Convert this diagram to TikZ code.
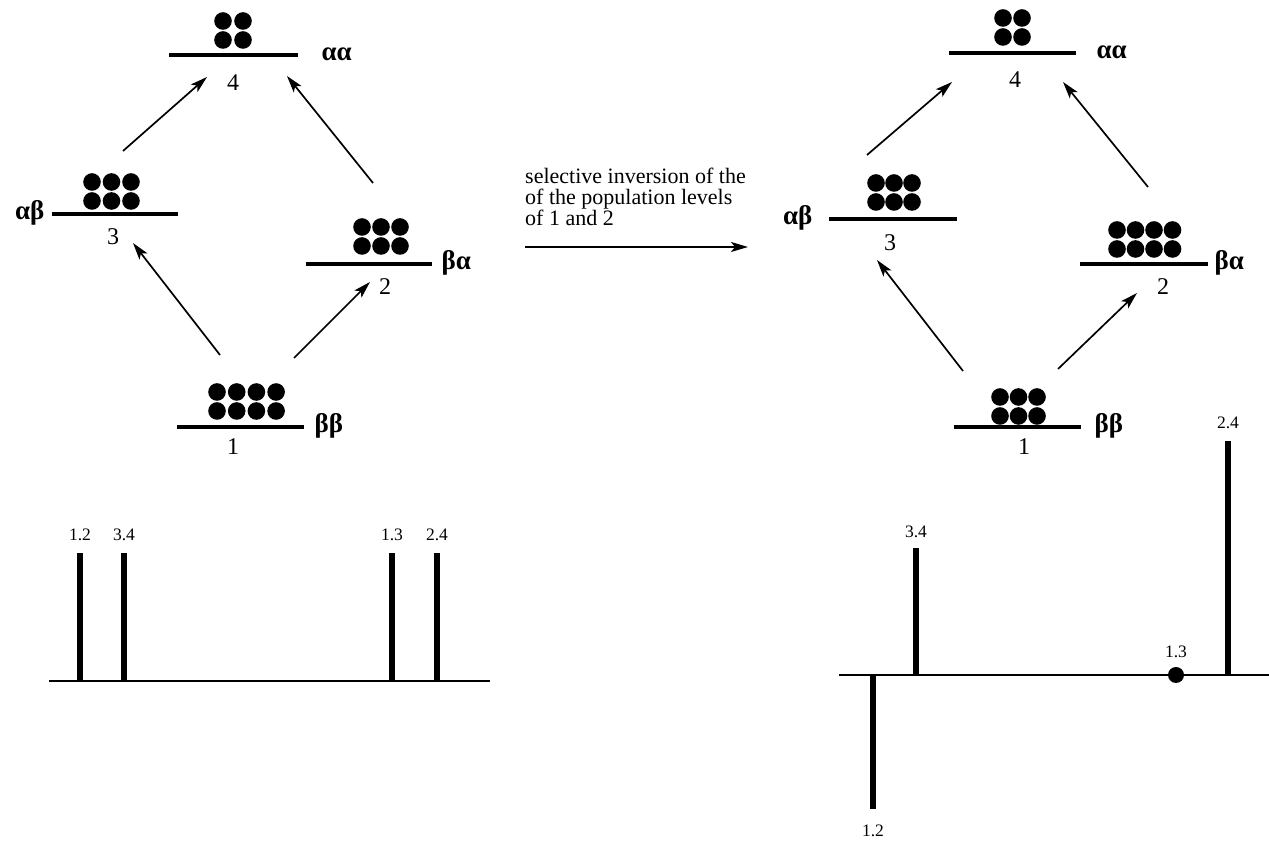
\documentclass[tikz,border=0pt]{standalone}
\usepackage{fontspec}
\setmainfont{Liberation Serif}
\usetikzlibrary{arrows.meta}
\tikzset{
  levelbar/.style={line width=3.5pt},
  trans/.style={line width=1.7pt,-{Stealth[length=17pt,width=10pt,inset=4pt]}},
  peakbar/.style={line width=6.5pt},
  axisline/.style={line width=1.5pt},
  lvlnum/.style={font=\fontsize{24}{26}\selectfont},
  spinlab/.style={font=\bfseries\fontsize{27}{29}\selectfont},
  peaklab/.style={font=\fontsize{17.5}{19}\selectfont},
}
\newcommand{\popdots}[4]{% first dot x, upper row y, columns, spacing
  \foreach \i in {1,...,#3} {
    \fill ({#1+(\i-1)*#4},#2) circle (8.8pt);
    \fill ({#1+(\i-1)*#4},#2-19) circle (8.8pt);
  }
}
\newcommand{\peak}[6]{% name, x, base y, tip y, label y, label
  \draw[peakbar] (#2,#3) -- (#2,#4);
  \node[peaklab] (#1) at (#2,#5) {#6};
}

\begin{document}
\begin{tikzpicture}[x=1pt,y=1pt]
\useasboundingbox (0,0) rectangle (1269,842);
\fill[white] (0,0) rectangle (1269,842);

% left: equilibrium populations
\draw[levelbar] (169,787) -- (298,787);
\popdots{223}{821}{2}{20}
\node[lvlnum] (l4) at (233,759) {4};
\node[spinlab,anchor=west] (l4s) at (318,788) {αα};

\draw[levelbar] (52,628) -- (178,628);
\popdots{92}{660}{3}{19.5}
\node[lvlnum] (l3) at (113,605) {3};
\node[spinlab,anchor=east] (l3s) at (48,629) {αβ};

\draw[levelbar] (306,578) -- (432,578);
\popdots{362}{615}{3}{19}
\node[lvlnum] (l2) at (385,555) {2};
\node[spinlab,anchor=west] (l2s) at (438,579) {βα};

\draw[levelbar] (177,415) -- (304,415);
\popdots{217}{450}{4}{19.7}
\node[lvlnum] (l1) at (233,395) {1};
\node[spinlab,anchor=west] (l1s) at (311,416) {ββ};

\coordinate (l34a) at (123,691);
\coordinate (l34b) at (207,765);
\coordinate (l24a) at (373,659);
\coordinate (l24b) at (287,766);
\coordinate (l13a) at (220,487);
\coordinate (l13b) at (133,599);
\coordinate (l12a) at (294,484);
\coordinate (l12b) at (370,560);
\draw[trans] (l34a) -- (l34b);
\draw[trans] (l24a) -- (l24b);
\draw[trans] (l13a) -- (l13b);
\draw[trans] (l12a) -- (l12b);

% middle: the inversion step
\node[anchor=north west,align=left,inner sep=0pt,
  font=\fontsize{22}{21}\selectfont] (inv) at (525,674)
  {selective inversion of the\\of the population levels\\of 1 and 2};
\coordinate (inva) at (525,595);
\coordinate (invb) at (748,595);
\draw[trans] (inva) -- (invb);

% right: after inversion
\draw[levelbar] (949,789) -- (1076,789);
\popdots{1003}{824}{2}{19}
\node[lvlnum] (r4) at (1015,762) {4};
\node[spinlab,anchor=west] (r4s) at (1093,790) {αα};

\draw[levelbar] (829,623) -- (957,623);
\popdots{876}{659}{3}{18}
\node[lvlnum] (r3) at (890,599) {3};
\node[spinlab,anchor=east] (r3s) at (816,624) {αβ};

\draw[levelbar] (1080,578) -- (1208,578);
\popdots{1117}{612}{4}{18.5}
\node[lvlnum] (r2) at (1163,555) {2};
\node[spinlab,anchor=west] (r2s) at (1211,579) {βα};

\draw[levelbar] (954,415) -- (1081,415);
\popdots{1000}{445}{3}{18.5}
\node[lvlnum] (r1) at (1024,395) {1};
\node[spinlab,anchor=west] (r1s) at (1091,416) {ββ};

\coordinate (r34a) at (867,687);
\coordinate (r34b) at (952,760);
\coordinate (r24a) at (1148,655);
\coordinate (r24b) at (1063,760);
\coordinate (r13a) at (963,471);
\coordinate (r13b) at (877,582);
\coordinate (r12a) at (1058,473);
\coordinate (r12b) at (1137,549);
\draw[trans] (r34a) -- (r34b);
\draw[trans] (r24a) -- (r24b);
\draw[trans] (r13a) -- (r13b);
\draw[trans] (r12a) -- (r12b);

% spectra
\draw[axisline] (49,161) -- (490,161);
\peak{p12}{80}{161}{289}{307}{1.2}
\peak{p34}{124}{161}{289}{307}{3.4}
\peak{p13}{392}{161}{289}{307}{1.3}
\peak{p24}{437}{161}{289}{307}{2.4}

\draw[axisline] (839,167) -- (1269,167);
\peak{q34}{916}{167}{294}{310}{3.4}
\peak{q12}{873}{167}{33}{11}{1.2}
\peak{q24}{1228}{167}{401}{419}{2.4}
\fill (1176,167) circle (8pt);
\node[peaklab] (q13) at (1176,190) {1.3};

\end{tikzpicture}
\end{document}
